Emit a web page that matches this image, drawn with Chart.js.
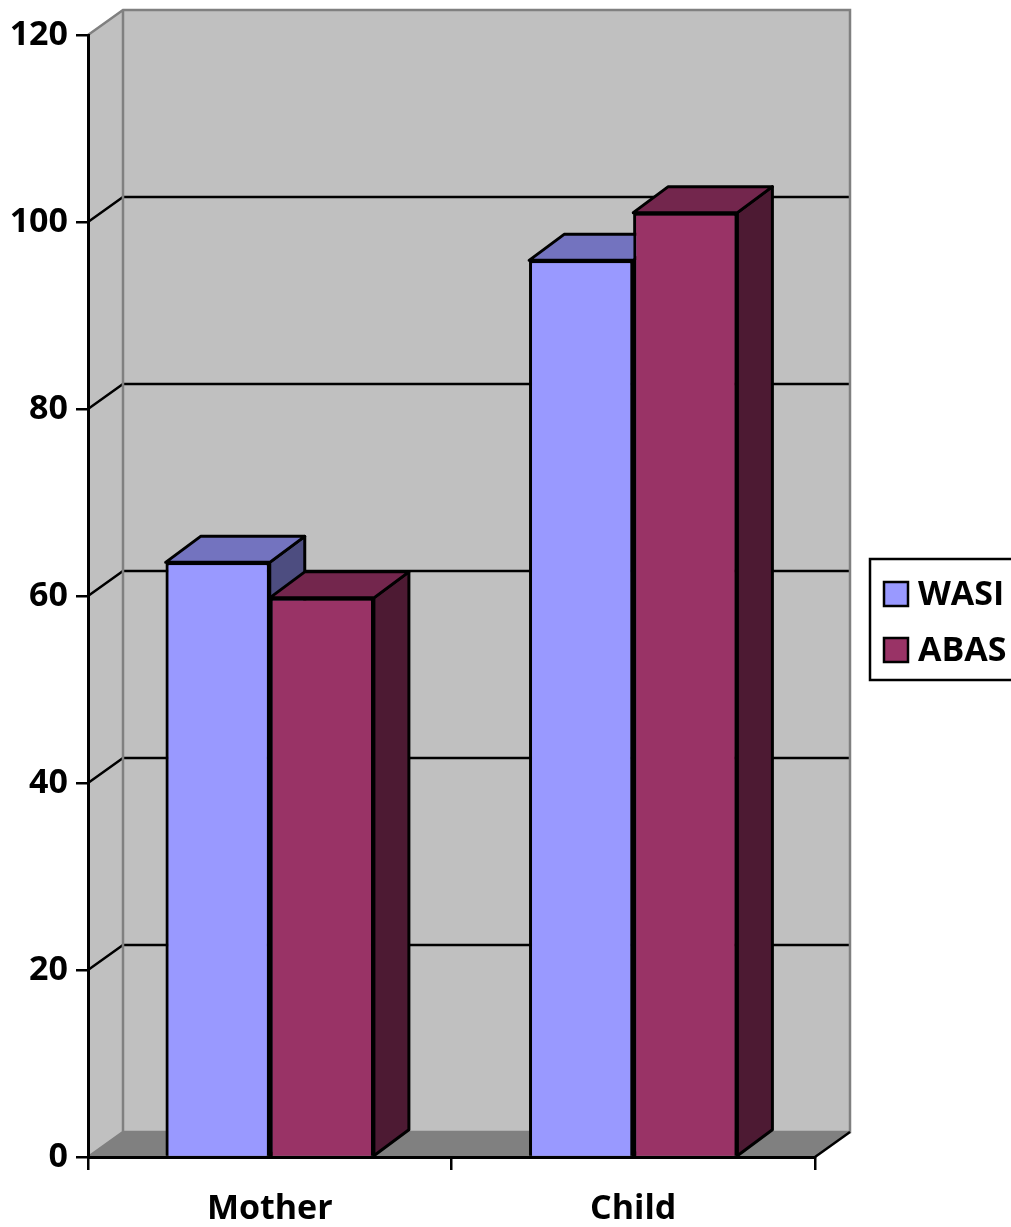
<!DOCTYPE html>
<html>
<head>
<meta charset="utf-8">
<script src="https://cdn.jsdelivr.net/npm/chart.js@4.4.0/dist/chart.umd.min.js"></script>
<style>
    html, body { margin: 0; padding: 0; background: #fff; }
</style>
</head>
<body>
<canvas id="myChart" width="1011" height="1227"></canvas>
<script>
// Данни, прочетени от картинката
const categories = ['Mother', 'Child'];
const seriesNames = ['WASI', 'ABAS'];
const wasiValues = [63.6, 95.9];
const abasValues = [59.8, 101];
const yTicks = [0, 20, 40, 60, 80, 100, 120];

// Цветове за лице, горна и странична стена на всяка колона
const faceColors = [
    { front: '#9999ff', top: '#7373bf', side: '#4d4d80' },
    { front: '#993366', top: '#73264d', side: '#4d1a33' }
];

// Отместване за дълбочината (3D ефект)
const DX = 35, DY = -25;
const BAR_DY = -26;

Chart.defaults.font.family = "'Open Sans', sans-serif";

function poly(ctx, pts, fill) {
    ctx.beginPath();
    ctx.moveTo(pts[0][0], pts[0][1]);
    for (let k = 1; k < pts.length; k++) ctx.lineTo(pts[k][0], pts[k][1]);
    ctx.closePath();
    ctx.fillStyle = fill;
    ctx.fill();
    ctx.stroke();
}

// Рисуваме задната стена, страничната стена и пода
const wallsPlugin = {
    id: 'walls',
    beforeDraw(chart) {
        const { ctx, chartArea: a, scales: { y } } = chart;
        const top = y.getPixelForValue(y.max);
        const bottom = y.getPixelForValue(y.min);
        const w = a.right - a.left;
        ctx.save();
        ctx.fillStyle = '#c0c0c0';
        ctx.beginPath();
        ctx.moveTo(a.left, top);
        ctx.lineTo(a.left + DX, top + DY);
        ctx.lineTo(a.left + DX, bottom + DY);
        ctx.lineTo(a.left, bottom);
        ctx.closePath();
        ctx.fill();
        ctx.fillRect(a.left + DX, top + DY, w, bottom - top);

        ctx.fillStyle = '#808080';
        ctx.beginPath();
        ctx.moveTo(a.left, bottom);
        ctx.lineTo(a.right, bottom);
        ctx.lineTo(a.right + DX, bottom + DY);
        ctx.lineTo(a.left + DX, bottom + DY);
        ctx.closePath();
        ctx.fill();

        // хоризонталните линии по задната стена
        ctx.lineWidth = 2.5;
        ctx.strokeStyle = '#000';
        yTicks.forEach(v => {
            if (v === y.min || v === y.max) return;
            const py = y.getPixelForValue(v);
            ctx.beginPath();
            ctx.moveTo(a.left, py);
            ctx.lineTo(a.left + DX, py + DY);
            ctx.lineTo(a.right + DX, py + DY);
            ctx.stroke();
        });

        // сиви ръбове на стените
        ctx.lineWidth = 2.5;
        ctx.strokeStyle = '#808080';
        ctx.beginPath();
        ctx.moveTo(a.left, top);
        ctx.lineTo(a.left + DX, top + DY);
        ctx.lineTo(a.right + DX, top + DY);
        ctx.lineTo(a.right + DX, bottom + DY);
        ctx.lineTo(a.left + DX, bottom + DY);
        ctx.lineTo(a.left, bottom);
        ctx.moveTo(a.left + DX, top + DY);
        ctx.lineTo(a.left + DX, bottom + DY);
        ctx.stroke();

        ctx.strokeStyle = '#000';
        ctx.beginPath();
        ctx.moveTo(a.right, bottom);
        ctx.lineTo(a.right + DX, bottom + DY);
        ctx.stroke();
        ctx.restore();
    }
};

// Добавяме горна и странична стена на всяка колона и прерисуваме лицето отгоре
const boxesPlugin = {
    id: 'boxes',
    afterDatasetsDraw(chart) {
        const ctx = chart.ctx;
        ctx.save();
        ctx.lineWidth = 3;
        ctx.strokeStyle = '#000';
        ctx.lineJoin = 'round';
        categories.forEach((c, i) => {
            chart.data.datasets.forEach((ds, d) => {
                const bar = chart.getDatasetMeta(d).data[i];
                const { x, y, base, width } = bar.getProps(['x', 'y', 'base', 'width'], true);
                const l = x - width / 2, r = x + width / 2;
                poly(ctx, [[r, y], [r + DX, y + BAR_DY], [r + DX, base + BAR_DY], [r, base]], faceColors[d].side);
                poly(ctx, [[l, y], [l + DX, y + BAR_DY], [r + DX, y + BAR_DY], [r, y]], faceColors[d].top);
                bar.draw(ctx);
            });
        });
        ctx.restore();
    }
};

// Легенда в рамка вдясно
const legendPlugin = {
    id: 'legendBox',
    afterDraw(chart) {
        const ctx = chart.ctx;
        const a = chart.chartArea;
        const left = a.right + DX + 20, top = 559, rowH = 56;
        ctx.save();
        ctx.lineWidth = 2.5;
        ctx.strokeStyle = '#000';
        ctx.strokeRect(left, top, 200, 121);
        ctx.font = "bold 34px 'Open Sans', sans-serif";
        ctx.textBaseline = 'middle';
        chart.data.datasets.forEach((ds, d) => {
            const cy = top + 35 + d * rowH;
            ctx.fillStyle = ds.backgroundColor;
            ctx.fillRect(left + 14, cy - 12, 24, 24);
            ctx.strokeRect(left + 14, cy - 12, 24, 24);
            ctx.fillStyle = '#000';
            ctx.fillText(ds.label, left + 48, cy + 1);
        });
        ctx.restore();
    }
};

const datasets = [wasiValues, abasValues].map((vals, d) => ({
    label: seriesNames[d],
    data: vals,
    backgroundColor: faceColors[d].front,
    borderColor: '#000',
    borderWidth: 3,
    barPercentage: 1,
    categoryPercentage: 0.573
}));

new Chart(document.getElementById('myChart'), {
    type: 'bar',
    data: { labels: categories, datasets: datasets },
    plugins: [wallsPlugin, boxesPlugin, legendPlugin],
    options: {
        responsive: false,
        animation: false,
        layout: { padding: { top: 35, right: 196, bottom: 0, left: 0 } },
        plugins: {
            legend: { display: false },
            tooltip: { enabled: false }
        },
        scales: {
            x: {
                grid: { drawOnChartArea: false, drawTicks: true, tickLength: 13, color: '#000', lineWidth: 2.5, offset: true },
                border: { display: true, color: '#000', width: 3 },
                ticks: { color: '#000', font: { size: 34, weight: 'bold' }, padding: 19 },
                afterFit: s => { s.height = 70; }
            },
            y: {
                min: yTicks[0],
                max: yTicks[yTicks.length - 1],
                ticks: { stepSize: 20, color: '#000', font: { size: 34, weight: 'bold' }, padding: 8 },
                grid: { drawOnChartArea: false, drawTicks: true, tickLength: 12, color: '#000', lineWidth: 2.5 },
                border: { display: true, color: '#000', width: 3 },
                afterFit: s => { s.width = 88; }
            }
        }
    }
});
</script>
</body>
</html>
